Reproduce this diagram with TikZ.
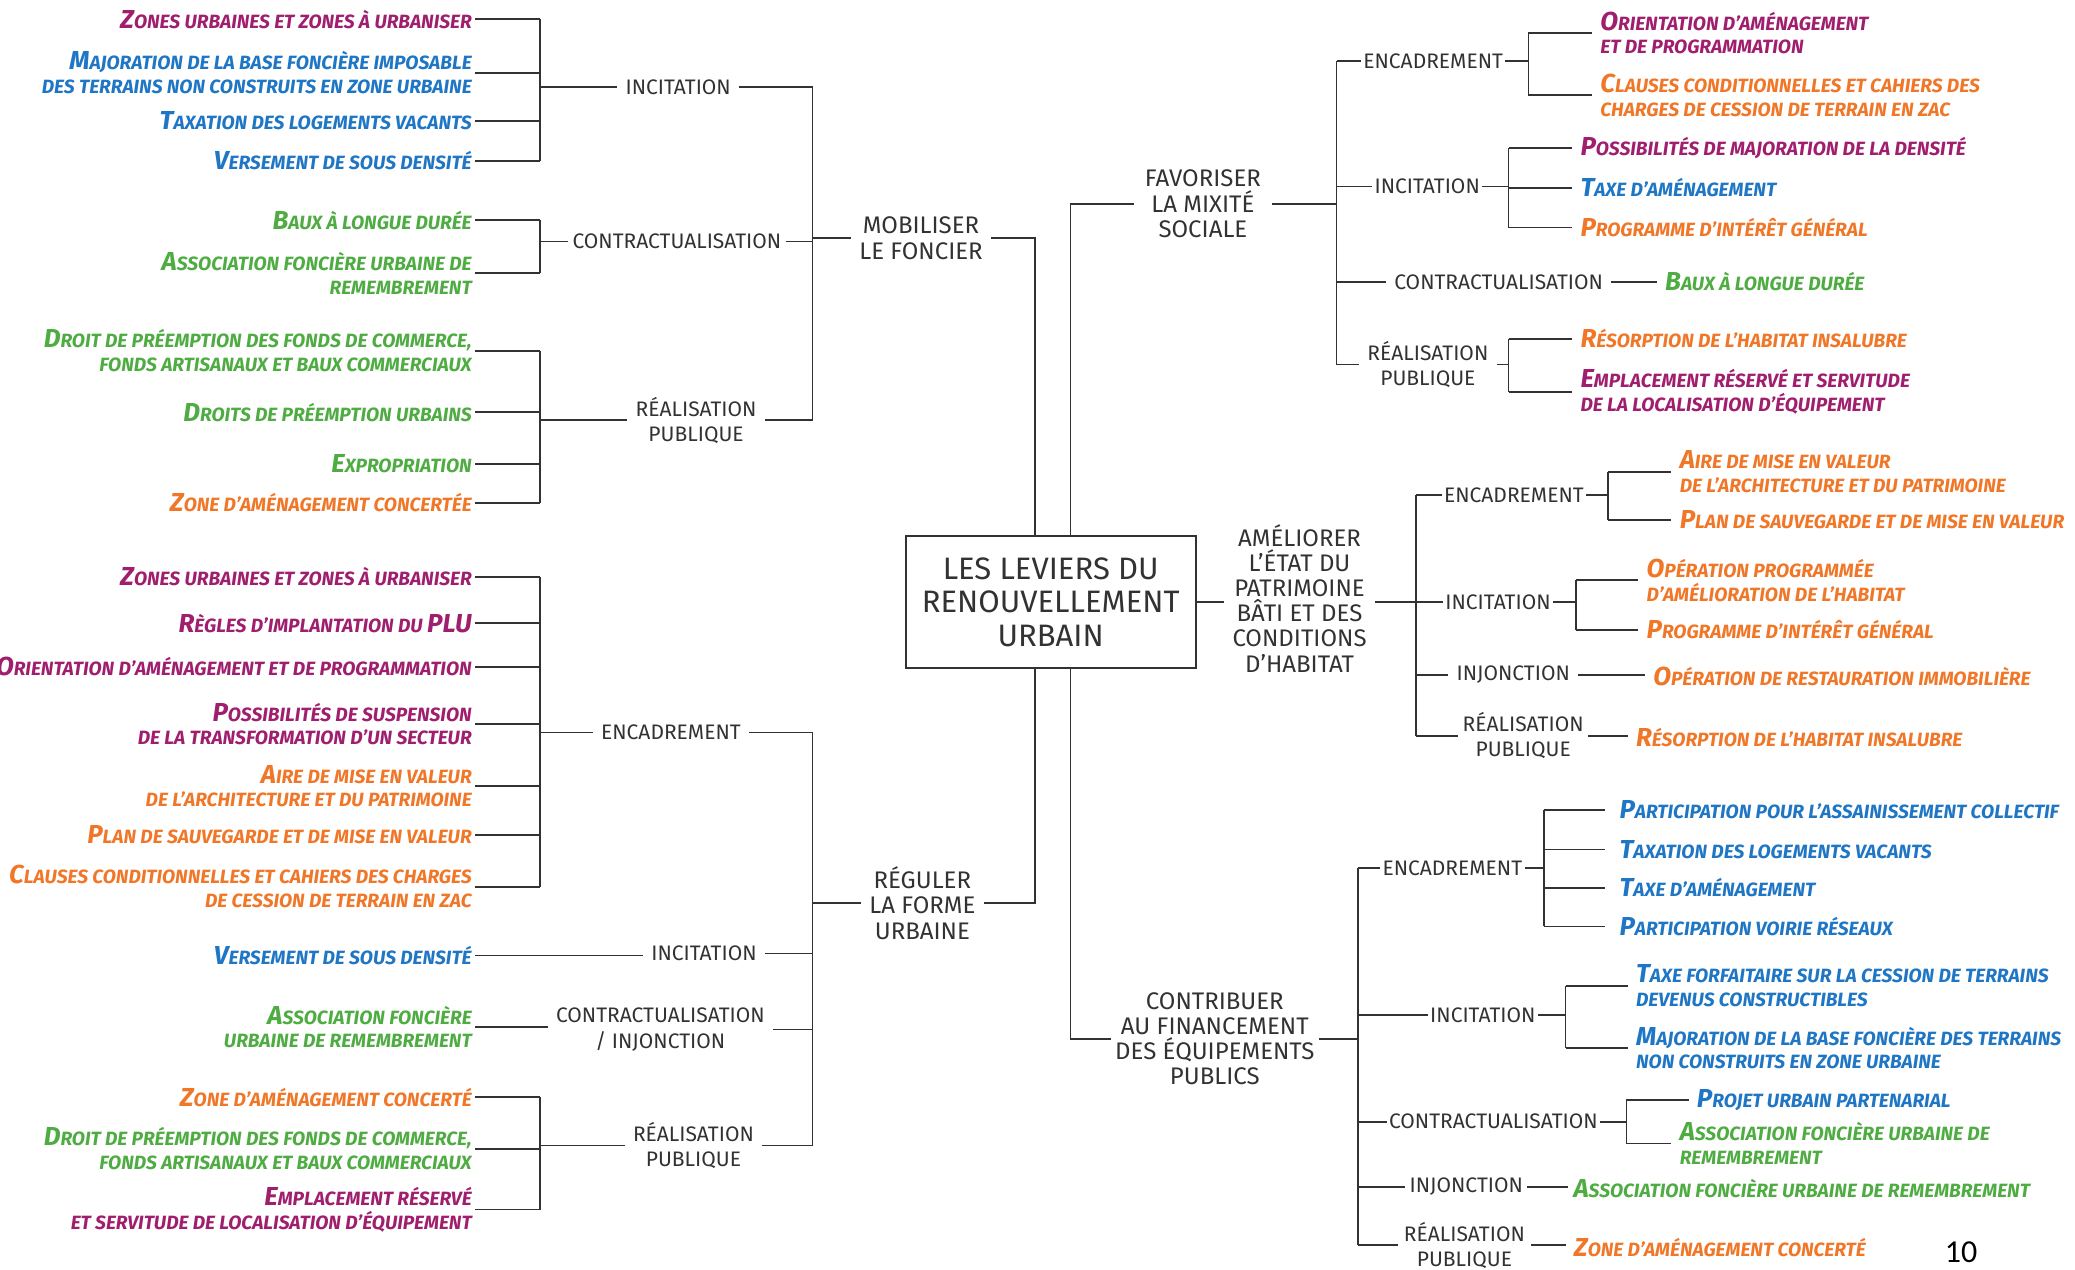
\documentclass[tikz,border=0pt]{standalone}
\usepackage{fontspec}
\setmainfont{Fira Sans}
\newfontfamily\pagefont{Carlito}
\definecolor{levInk}{RGB}{50,50,50}
\definecolor{levPurple}{RGB}{160,30,110}
\definecolor{levBlue}{RGB}{30,118,196}
\definecolor{levGreen}{RGB}{78,172,66}
\definecolor{levOrange}{RGB}{240,118,40}
\newcommand\ini[1]{{\fontsize{13}{13}\selectfont #1}}

\begin{document}
\begin{tikzpicture}[
  x=0.6617pt, y=-0.6617pt,
  link/.style={draw=levInk, line width=0.85pt},
  axe/.style={font=\fontsize{12}{12.6}\selectfont, text=levInk, align=center, inner xsep=4pt, inner ysep=1pt},
  lab/.style={font=\fontsize{10.5}{12.6}\selectfont, text=levInk, align=center, inner xsep=4pt, inner ysep=1pt},
  tight/.style={inner xsep=1pt},
  lt/.style={font=\bfseries\itshape\fontsize{9.6}{11.8}\selectfont, anchor=east, align=right, inner xsep=1.5pt, inner ysep=1pt},
  rt/.style={font=\bfseries\itshape\fontsize{9.6}{11.8}\selectfont, anchor=west, align=left, inner xsep=4pt, inner ysep=1pt},
  vio/.style={text=levPurple}, blu/.style={text=levBlue},
  gre/.style={text=levGreen}, ora/.style={text=levOrange}
]
\useasboundingbox (0,0) rectangle (1568,959);

\node[draw=levInk, line width=0.85pt, minimum width=145pt, minimum height=66pt, align=center, text=levInk,
  font=\fontsize{15.5}{16.9}\selectfont] (box) at (794,455) {LES LEVIERS DU\\RENOUVELLEMENT\\URBAIN};

\coordinate (lb) at (408,0);
\coordinate (mb) at (614,0);
\coordinate (ka) at (782,0);
\coordinate (kb) at (809,0);
\coordinate (fb) at (1010,0);
\coordinate (feb) at (1155,0);
\coordinate (fib) at (1140,0);
\coordinate (ab) at (1070,0);
\coordinate (aeb) at (1215,0);
\coordinate (aib) at (1191,0);
\coordinate (cb) at (1026,0);
\coordinate (ceb) at (1166.5,0);
\coordinate (cib) at (1183,0);
\coordinate (ccb) at (1229,0);

\node[axe] (mob) at (696,180) {MOBILISER\\LE FONCIER};
\node[lab] (minc) at (512.5,66) {INCITATION};
\node[lab, inner xsep=2pt] (mcon) at (511.5,182.5) {CONTRACTUALISATION};
\node[lab] (mreal) at (526,317.5) {RÉALISATION\\PUBLIQUE};
\node[lt, vio] (mi1) at (359,14.5) {\ini{Z}ONES URBAINES ET ZONES À URBANISER};
\node[lt, blu] (mi2) at (359,55) {\ini{M}AJORATION DE LA BASE FONCIÈRE IMPOSABLE\\DES TERRAINS NON CONSTRUITS EN ZONE URBAINE};
\node[lt, blu] (mi3) at (359,91.5) {\ini{T}AXATION DES LOGEMENTS VACANTS};
\node[lt, blu] (mi4) at (359,121.5) {\ini{V}ERSEMENT DE SOUS DENSITÉ};
\node[lt, gre] (mc1) at (359,166.5) {\ini{B}AUX À LONGUE DURÉE};
\node[lt, gre] (mc2) at (359,206.5) {\ini{A}SSOCIATION FONCIÈRE URBAINE DE\\REMEMBREMENT};
\node[lt, gre] (mr1) at (359,265) {\ini{D}ROIT DE PRÉEMPTION DES FONDS DE COMMERCE,\\FONDS ARTISANAUX ET BAUX COMMERCIAUX};
\node[lt, gre] (mr2) at (359,311.5) {\ini{D}ROITS DE PRÉEMPTION URBAINS};
\node[lt, gre] (mr3) at (359,350.5) {\ini{E}XPROPRIATION};
\node[lt, ora] (mr4) at (359,380) {\ini{Z}ONE D'AMÉNAGEMENT CONCERTÉE};

\node[axe] (reg) at (697,682.5) {RÉGULER\\LA FORME\\URBAINE};
\node[lab] (renc) at (507,553.5) {ENCADREMENT};
\node[lab] (rinc) at (532,720.5) {INCITATION};
\node[lab] (rcon) at (499,778) {CONTRACTUALISATION\\/ INJONCTION};
\node[lab] (rreal) at (524,865.5) {RÉALISATION\\PUBLIQUE};
\node[lt, vio] (re1) at (359,436) {\ini{Z}ONES URBAINES ET ZONES À URBANISER};
\node[lt, vio] (re2) at (359,471) {\ini{R}ÈGLES D'IMPLANTATION DU \ini{PLU}};
\node[lt, vio] (re3) at (359,504) {\ini{O}RIENTATION D'AMÉNAGEMENT ET DE PROGRAMMATION};
\node[lt, vio] (re4) at (359,547) {\ini{P}OSSIBILITÉS DE SUSPENSION\\DE LA TRANSFORMATION D'UN SECTEUR};
\node[lt, ora] (re5) at (359,594) {\ini{A}IRE DE MISE EN VALEUR\\DE L'ARCHITECTURE ET DU PATRIMOINE};
\node[lt, ora] (re6) at (359,631) {\ini{P}LAN DE SAUVEGARDE ET DE MISE EN VALEUR};
\node[lt, ora] (re7) at (359,670) {\ini{C}LAUSES CONDITIONNELLES ET CAHIERS DES CHARGES\\DE CESSION DE TERRAIN EN ZAC};
\node[lt, blu] (ri1) at (359,722) {\ini{V}ERSEMENT DE SOUS DENSITÉ};
\node[lt, gre] (rc1) at (359,776) {\ini{A}SSOCIATION FONCIÈRE\\URBAINE DE REMEMBREMENT};
\node[lt, ora] (rr1) at (359,829) {\ini{Z}ONE D'AMÉNAGEMENT CONCERTÉ};
\node[lt, gre] (rr2) at (359,868) {\ini{D}ROIT DE PRÉEMPTION DES FONDS DE COMMERCE,\\FONDS ARTISANAUX ET BAUX COMMERCIAUX};
\node[lt, vio] (rr3) at (359,914) {\ini{E}MPLACEMENT RÉSERVÉ\\ET SERVITUDE DE LOCALISATION D'ÉQUIPEMENT};

\node[axe, inner xsep=5.5pt] (fav) at (909,154) {FAVORISER\\LA MIXITÉ\\SOCIALE};
\node[lab, tight] (fenc) at (1083,46) {ENCADREMENT};
\node[lab, tight] (finc) at (1078.5,141) {INCITATION};
\node[lab] (fcon) at (1132.5,213) {CONTRACTUALISATION};
\node[lab] (freal) at (1079,275.5) {RÉALISATION\\PUBLIQUE};
\node[rt, vio] (fe1) at (1203,25) {\ini{O}RIENTATION D'AMÉNAGEMENT\\ET DE PROGRAMMATION};
\node[rt, ora] (fe2) at (1203,72) {\ini{C}LAUSES CONDITIONNELLES ET CAHIERS DES\\CHARGES DE CESSION DE TERRAIN EN ZAC};
\node[rt, vio] (fi1) at (1188,112) {\ini{P}OSSIBILITÉS DE MAJORATION DE LA DENSITÉ};
\node[rt, blu] (fi2) at (1188,142) {\ini{T}AXE D'AMÉNAGEMENT};
\node[rt, ora] (fi3) at (1188,172) {\ini{P}ROGRAMME D'INTÉRÊT GÉNÉRAL};
\node[rt, gre] (fc1) at (1252,213) {\ini{B}AUX À LONGUE DURÉE};
\node[rt, ora] (fr1) at (1188,256) {\ini{R}ÉSORPTION DE L'HABITAT INSALUBRE};
\node[rt, vio] (fr2) at (1188,296) {\ini{E}MPLACEMENT RÉSERVÉ ET SERVITUDE\\DE LA LOCALISATION D'ÉQUIPEMENT};

\node[axe] (amel) at (982,452) {AMÉLIORER\\L'ÉTAT DU\\PATRIMOINE\\BÂTI ET DES\\CONDITIONS\\D'HABITAT};
\node[lab, tight] (aenc) at (1144,374) {ENCADREMENT};
\node[lab, tight] (ainc) at (1132,455) {INCITATION};
\node[lab] (ainj) at (1143.5,510) {INJONCTION};
\node[lab, inner xsep=2pt] (areal) at (1151,556) {RÉALISATION\\PUBLIQUE};
\node[rt, ora] (ae1) at (1263,356.6) {\ini{A}IRE DE MISE EN VALEUR\\DE L'ARCHITECTURE ET DU PATRIMOINE};
\node[rt, ora] (ae2) at (1263,393) {\ini{P}LAN DE SAUVEGARDE ET DE MISE EN VALEUR};
\node[rt, ora] (ai1) at (1238,438.5) {\ini{O}PÉRATION PROGRAMMÉE\\D'AMÉLIORATION DE L'HABITAT};
\node[rt, ora] (ai2) at (1238,476) {\ini{P}ROGRAMME D'INTÉRÊT GÉNÉRAL};
\node[rt, ora] (aj1) at (1243,511) {\ini{O}PÉRATION DE RESTAURATION IMMOBILIÈRE};
\node[rt, ora] (ar1) at (1230,557) {\ini{R}ÉSORPTION DE L'HABITAT INSALUBRE};

\node[axe, inner xsep=2pt] (contr) at (918,785) {CONTRIBUER\\AU FINANCEMENT\\DES ÉQUIPEMENTS\\PUBLICS};
\node[lab, tight] (cenc) at (1097.5,656) {ENCADREMENT};
\node[lab, tight] (cinc) at (1120.5,767) {INCITATION};
\node[lab, tight] (ccon) at (1128.5,847.6) {CONTRACTUALISATION};
\node[lab, inner xsep=2pt] (cinj) at (1108,897) {INJONCTION};
\node[lab, inner xsep=3pt] (creal) at (1106.6,941) {RÉALISATION\\PUBLIQUE};
\node[rt, blu, inner xsep=7pt] (ce1) at (1213,612) {\ini{P}ARTICIPATION POUR L'ASSAINISSEMENT COLLECTIF};
\node[rt, blu, inner xsep=7pt] (ce2) at (1213,642) {\ini{T}AXATION DES LOGEMENTS VACANTS};
\node[rt, blu, inner xsep=7pt] (ce3) at (1213,671) {\ini{T}AXE D'AMÉNAGEMENT};
\node[rt, blu, inner xsep=7pt] (ce4) at (1213,700) {\ini{P}ARTICIPATION VOIRIE RÉSEAUX};
\node[rt, blu] (ci1) at (1230,745) {\ini{T}AXE FORFAITAIRE SUR LA CESSION DE TERRAINS\\DEVENUS CONSTRUCTIBLES};
\node[rt, blu] (ci2) at (1230,792) {\ini{M}AJORATION DE LA BASE FONCIÈRE DES TERRAINS\\NON CONSTRUITS EN ZONE URBAINE};
\node[rt, blu] (cc1) at (1276,831) {\ini{P}ROJET URBAIN PARTENARIAL};
\node[rt, gre] (cc2) at (1263,864) {\ini{A}SSOCIATION FONCIÈRE URBAINE DE\\REMEMBREMENT};
\node[rt, gre, inner xsep=2.5pt] (cj1) at (1185,898) {\ini{A}SSOCIATION FONCIÈRE URBAINE DE REMEMBREMENT};
\node[rt, ora] (cr1) at (1183,943) {\ini{Z}ONE D'AMÉNAGEMENT CONCERTÉ};

\node[font=\pagefont\fontsize{16}{16}\selectfont, text=black] (pg) at (1482,946) {10};

\draw[link] (mob.east) -| (box.north -| ka);
\draw[link] (fav.west) -| (box.north -| kb);
\draw[link] (reg.east) -| (box.south -| ka);
\draw[link] (contr.west) -| (box.south -| kb);
\draw[link] (box.east) -- (box.east -| amel.west);

\draw[link] (mob.west) -- (mob.west -| mb);
\draw[link] (minc.east -| mb) -- (mreal.east -| mb);
\draw[link] (minc.east) -- (minc.east -| mb);
\draw[link] (mcon.east) -- (mcon.east -| mb);
\draw[link] (mreal.east) -- (mreal.east -| mb);
\draw[link] (minc.west) -- (minc.west -| lb);
\draw[link] (mcon.west) -- (mcon.west -| lb);
\draw[link] (mreal.west) -- (mreal.west -| lb);
\draw[link] (mi1.east -| lb) -- (mi4.east -| lb);
\draw[link] (mc1.east -| lb) -- (mc2.east -| lb);
\draw[link] (mr1.east -| lb) -- (mr4.east -| lb);
\draw[link] (mi1.east) -- (mi1.east -| lb);
\draw[link] (mi2.east) -- (mi2.east -| lb);
\draw[link] (mi3.east) -- (mi3.east -| lb);
\draw[link] (mi4.east) -- (mi4.east -| lb);
\draw[link] (mc1.east) -- (mc1.east -| lb);
\draw[link] (mc2.east) -- (mc2.east -| lb);
\draw[link] (mr1.east) -- (mr1.east -| lb);
\draw[link] (mr2.east) -- (mr2.east -| lb);
\draw[link] (mr3.east) -- (mr3.east -| lb);
\draw[link] (mr4.east) -- (mr4.east -| lb);

\draw[link] (reg.west) -- (reg.west -| mb);
\draw[link] (renc.east -| mb) -- (rreal.east -| mb);
\draw[link] (renc.east) -- (renc.east -| mb);
\draw[link] (rinc.east) -- (rinc.east -| mb);
\draw[link] (rcon.east) -- (rcon.east -| mb);
\draw[link] (rreal.east) -- (rreal.east -| mb);
\draw[link] (renc.west) -- (renc.west -| lb);
\draw[link] (rreal.west) -- (rreal.west -| lb);
\draw[link] (ri1.east) -- (ri1.east -| rinc.west);
\draw[link] (rc1.east) -- (rc1.east -| rcon.west);
\draw[link] (re1.east -| lb) -- (re7.east -| lb);
\draw[link] (rr1.east -| lb) -- (rr3.east -| lb);
\draw[link] (re1.east) -- (re1.east -| lb);
\draw[link] (re2.east) -- (re2.east -| lb);
\draw[link] (re3.east) -- (re3.east -| lb);
\draw[link] (re4.east) -- (re4.east -| lb);
\draw[link] (re5.east) -- (re5.east -| lb);
\draw[link] (re6.east) -- (re6.east -| lb);
\draw[link] (re7.east) -- (re7.east -| lb);
\draw[link] (rr1.east) -- (rr1.east -| lb);
\draw[link] (rr2.east) -- (rr2.east -| lb);
\draw[link] (rr3.east) -- (rr3.east -| lb);

\draw[link] (fav.east) -- (fav.east -| fb);
\draw[link] (fenc.west -| fb) -- (freal.west -| fb);
\draw[link] (fenc.west) -- (fenc.west -| fb);
\draw[link] (finc.west) -- (finc.west -| fb);
\draw[link] (fcon.west) -- (fcon.west -| fb);
\draw[link] (freal.west) -- (freal.west -| fb);
\draw[link] (fenc.east) -- (fenc.east -| feb);
\draw[link] (finc.east) -- (finc.east -| fib);
\draw[link] (fcon.east) -- (fcon.east -| fc1.west);
\draw[link] (freal.east) -- (freal.east -| fib);
\draw[link] (fe1.west -| feb) -- (fe2.west -| feb);
\draw[link] (fi1.west -| fib) -- (fi3.west -| fib);
\draw[link] (fr1.west -| fib) -- (fr2.west -| fib);
\draw[link] (fe1.west -| feb) -- (fe1.west);
\draw[link] (fe2.west -| feb) -- (fe2.west);
\draw[link] (fi1.west -| fib) -- (fi1.west);
\draw[link] (fi2.west -| fib) -- (fi2.west);
\draw[link] (fi3.west -| fib) -- (fi3.west);
\draw[link] (fr1.west -| fib) -- (fr1.west);
\draw[link] (fr2.west -| fib) -- (fr2.west);

\draw[link] (amel.east |- box.east) -- (box.east -| ab);
\draw[link] (aenc.west -| ab) -- (areal.west -| ab);
\draw[link] (aenc.west) -- (aenc.west -| ab);
\draw[link] (ainc.west) -- (ainc.west -| ab);
\draw[link] (ainj.west) -- (ainj.west -| ab);
\draw[link] (areal.west) -- (areal.west -| ab);
\draw[link] (aenc.east) -- (aenc.east -| aeb);
\draw[link] (ainc.east) -- (ainc.east -| aib);
\draw[link] (ainj.east) -- (ainj.east -| aj1.west);
\draw[link] (areal.east) -- (areal.east -| ar1.west);
\draw[link] (ae1.west -| aeb) -- (ae2.west -| aeb);
\draw[link] (ai1.west -| aib) -- (ai2.west -| aib);
\draw[link] (ae1.west -| aeb) -- (ae1.west);
\draw[link] (ae2.west -| aeb) -- (ae2.west);
\draw[link] (ai1.west -| aib) -- (ai1.west);
\draw[link] (ai2.west -| aib) -- (ai2.west);

\draw[link] (contr.east) -- (contr.east -| cb);
\draw[link] (cenc.west -| cb) -- (creal.west -| cb);
\draw[link] (cenc.west) -- (cenc.west -| cb);
\draw[link] (cinc.west) -- (cinc.west -| cb);
\draw[link] (ccon.west) -- (ccon.west -| cb);
\draw[link] (cinj.west) -- (cinj.west -| cb);
\draw[link] (creal.west) -- (creal.west -| cb);
\draw[link] (cenc.east) -- (cenc.east -| ceb);
\draw[link] (cinc.east) -- (cinc.east -| cib);
\draw[link] (ccon.east) -- (ccon.east -| ccb);
\draw[link] (cinj.east) -- (cinj.east -| cj1.west);
\draw[link] (creal.east) -- (creal.east -| cr1.west);
\draw[link] (ce1.west -| ceb) -- (ce4.west -| ceb);
\draw[link] (ci1.west -| cib) -- (ci2.west -| cib);
\draw[link] (cc1.west -| ccb) -- (cc2.west -| ccb);
\draw[link] (ce1.west -| ceb) -- (ce1.west);
\draw[link] (ce2.west -| ceb) -- (ce2.west);
\draw[link] (ce3.west -| ceb) -- (ce3.west);
\draw[link] (ce4.west -| ceb) -- (ce4.west);
\draw[link] (ci1.west -| cib) -- (ci1.west);
\draw[link] (ci2.west -| cib) -- (ci2.west);
\draw[link] (cc1.west -| ccb) -- (cc1.west);
\draw[link] (cc2.west -| ccb) -- (cc2.west);
\end{tikzpicture}
\end{document}
